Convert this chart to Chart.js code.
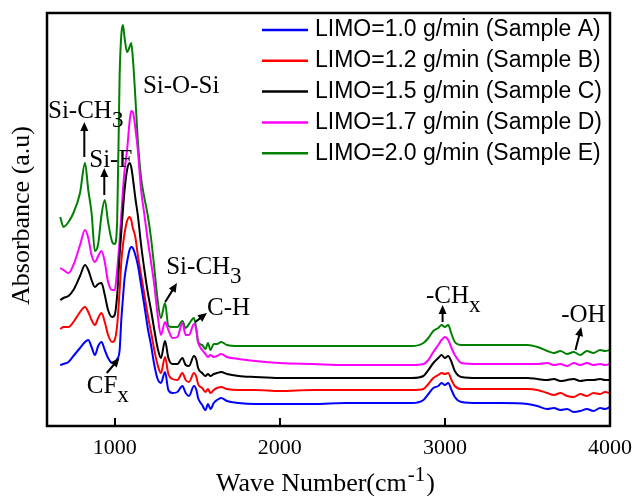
<!DOCTYPE html>
<html>
<head>
<meta charset="utf-8">
<script src="https://cdn.jsdelivr.net/npm/chart.js@4.4.0/dist/chart.umd.min.js"></script>
<style>
  html, body { margin: 0; padding: 0; background: #fff; }
  canvas { display: block; }
</style>
</head>
<body>
<canvas id="ftir" width="634" height="496"></canvas>
<script>
// FTIR spectra of the films grown at different LIMO flow rates (curves offset, arbitrary units)
const waveNumbers = [
  670, 690, 720, 750, 790, 820, 840, 860, 880, 900,
  920, 940, 960, 985, 1000, 1015, 1030, 1040, 1050, 1060,
  1075, 1090, 1100, 1110, 1125, 1140, 1160, 1180, 1200, 1220,
  1240, 1260, 1280, 1305, 1325, 1350, 1380, 1410, 1430, 1450,
  1480, 1495, 1505, 1530, 1550, 1565, 1580, 1600, 1620, 1645,
  1680, 1750, 1850, 2000, 2200, 2400, 2600, 2800, 2870, 2900,
  2930, 2960, 2980, 3000, 3020, 3040, 3060, 3100, 3200, 3350,
  3500, 3560, 3620, 3660, 3700, 3740, 3780, 3820, 3860, 3900,
  3940, 3970, 4000
];

const sampleA = [
  61, 62, 64, 70, 78, 84, 86, 79, 71, 80,
  84, 76, 68, 63, 64, 67, 76, 106, 128, 148,
  164, 176, 179, 178, 171, 161, 141, 120, 98, 81,
  61, 47, 43, 54, 36, 33, 34, 40, 33, 30,
  40, 36, 28, 21, 16, 22, 17, 23, 26, 28,
  25, 23, 22, 22, 22, 23, 23, 23, 26, 32,
  38, 40, 43, 41, 43, 36, 29, 24, 23, 23,
  22, 20, 17, 18, 16, 17, 14, 15, 17, 15,
  18, 17, 19
];

const sampleB = [
  97, 99, 99, 104, 114, 119, 114, 106, 101, 108,
  113, 104, 91, 84, 86, 101, 136, 164, 181, 193,
  205, 209, 206, 198, 189, 171, 151, 131, 111, 94,
  76, 61, 53, 69, 52, 47, 46, 53, 46, 44,
  53, 49, 42, 38, 34, 37, 33, 36, 38, 39,
  37, 36, 36, 35, 36, 36, 36, 36, 37, 42,
  48, 51, 53, 52, 53, 46, 40, 37, 37, 37,
  37, 36, 33, 31, 33, 30, 29, 32, 30, 33,
  32, 34, 33
];

const sampleC = [
  126, 128, 130, 136, 150, 161, 156, 146, 139, 142,
  143, 131, 116, 109, 111, 131, 171, 194, 216, 236,
  256, 263, 259, 248, 228, 211, 181, 156, 134, 116,
  96, 78, 68, 85, 68, 62, 62, 68, 61, 60,
  70, 66, 58, 53, 50, 52, 50, 52, 53, 54,
  52, 50, 49, 48, 48, 48, 48, 48, 50, 56,
  63, 68, 71, 68, 70, 64, 55, 49, 48, 48,
  48, 47, 46, 47, 45, 46, 47, 45, 46, 46,
  47, 46, 46
];

const sampleD = [
  158, 156, 153, 161, 181, 196, 188, 171, 164, 170,
  175, 164, 144, 136, 136, 156, 186, 211, 236, 256,
  276, 304, 315, 314, 298, 276, 236, 211, 186, 164,
  141, 111, 91, 104, 96, 88, 89, 103, 91, 91,
  102, 96, 84, 76, 72, 69, 71, 69, 70, 72,
  69, 67, 65, 63, 62, 61, 61, 61, 62, 66,
  74, 81, 86, 89, 86, 78, 71, 63, 62, 62,
  62, 62, 63, 61, 62, 60, 63, 61, 63, 61,
  62, 61, 62
];

const sampleE = [
  209, 199, 204, 213, 233, 263, 236, 213, 175, 182,
  211, 226, 204, 184, 182, 205, 351, 391, 401, 388,
  374, 379, 383, 368, 329, 286, 248, 228, 211, 188,
  158, 126, 108, 123, 100, 99, 99, 105, 98, 102,
  108, 96, 84, 81, 77, 83, 76, 82, 82, 84,
  81, 80, 80, 80, 80, 80, 80, 80, 83, 88,
  95, 98, 101, 99, 101, 92, 84, 81, 81, 81,
  81, 79, 75, 73, 75, 72, 74, 71, 75, 73,
  76, 75, 76
];

const sampleLabels = [
  'LIMO=1.0 g/min (Sample A)',
  'LIMO=1.2 g/min (Sample B)',
  'LIMO=1.5 g/min (Sample C)',
  'LIMO=1.7 g/min (Sample D)',
  'LIMO=2.0 g/min (Sample E)'
];
const sampleColors = ['#0000ff', '#ff0000', '#000000', '#ff00ff', '#008000'];
const xTickValues = [1000, 2000, 3000, 4000];

// band assignments: text anchor (left, baseline) and arrow, in wave number / absorbance units
const peakNotes = [
  { text: 'Si-O-Si', x: 1171, y: 333 },
  { text: 'Si-CH', sub: '3', x: 596, y: 308, arrow: [816, 269, 816, 304] },
  { text: 'Si-F', x: 846, y: 259, arrow: [937, 231, 937, 258] },
  { text: 'Si-CH', sub: '3', x: 1312, y: 152, arrow: [1306, 124, 1377, 143] },
  { text: 'C-H', x: 1559, y: 111, arrow: [1488, 104, 1559, 113] },
  { text: 'CF', sub: 'x', x: 831, y: 33, arrow: [952, 53, 1029, 68] },
  { text: '-CH', sub: 'x', x: 2885, y: 123, arrow: [2986, 104, 2986, 121] },
  { text: '-OH', x: 3704, y: 104, arrow: [3791, 76, 3826, 99] }
];

const serif = '"Liberation Serif", "Times New Roman", serif';
const sans = '"Liberation Sans", Arial, sans-serif';

const samples = [sampleA, sampleB, sampleC, sampleD, sampleE];

function drawArrow(ctx, x1, y1, x2, y2) {
  const ang = Math.atan2(y2 - y1, x2 - x1);
  const len = 9, half = 4;
  ctx.beginPath();
  ctx.moveTo(x1, y1);
  ctx.lineTo(x2 - Math.cos(ang) * len * 0.8, y2 - Math.sin(ang) * len * 0.8);
  ctx.stroke();
  ctx.beginPath();
  ctx.moveTo(x2, y2);
  ctx.lineTo(x2 - Math.cos(ang) * len - Math.sin(ang) * half, y2 - Math.sin(ang) * len + Math.cos(ang) * half);
  ctx.lineTo(x2 - Math.cos(ang) * len + Math.sin(ang) * half, y2 - Math.sin(ang) * len - Math.cos(ang) * half);
  ctx.closePath();
  ctx.fill();
}

const decorations = {
  id: 'decorations',
  afterDraw(chart) {
    const ctx = chart.ctx;
    const area = chart.chartArea;
    const xs = chart.scales.x;
    const ys = chart.scales.y;
    ctx.save();
    ctx.strokeStyle = '#000';
    ctx.fillStyle = '#000';

    // frame
    ctx.lineWidth = 2.5;
    ctx.strokeRect(area.left, area.top, area.right - area.left, area.bottom - area.top);

    // inward tick marks on the bottom axis
    ctx.lineWidth = 2;
    xTickValues.forEach(v => {
      const px = Math.round(xs.getPixelForValue(v));
      ctx.beginPath();
      ctx.moveTo(px, area.bottom);
      ctx.lineTo(px, area.bottom - 8);
      ctx.stroke();
    });

    // band labels and arrows
    peakNotes.forEach(n => {
      const px = xs.getPixelForValue(n.x);
      const py = ys.getPixelForValue(n.y);
      ctx.font = '25px ' + serif;
      ctx.textAlign = 'left';
      ctx.textBaseline = 'alphabetic';
      ctx.fillText(n.text, px, py);
      if (n.sub) {
        const w = ctx.measureText(n.text).width;
        ctx.font = '23px ' + serif;
        ctx.fillText(n.sub, px + w, py + 9);
      }
      if (n.arrow) {
        const [a, b, c, d] = n.arrow;
        ctx.lineWidth = 2;
        drawArrow(ctx, xs.getPixelForValue(a), ys.getPixelForValue(b),
          xs.getPixelForValue(c), ys.getPixelForValue(d));
      }
    });

    // legend
    const lx = area.right - 348;
    chart.data.datasets.forEach((ds, i) => {
      const ly = area.top + 17 + i * 30.8;
      ctx.strokeStyle = ds.borderColor;
      ctx.lineWidth = 2.5;
      ctx.beginPath();
      ctx.moveTo(lx, ly);
      ctx.lineTo(lx + 46, ly);
      ctx.stroke();
      ctx.fillStyle = '#000';
      ctx.font = '23px ' + sans;
      ctx.textAlign = 'left';
      ctx.textBaseline = 'middle';
      ctx.fillText(ds.label, lx + 53, ly);
    });

    // axis titles
    ctx.fillStyle = '#000';
    ctx.textBaseline = 'alphabetic';
    ctx.textAlign = 'left';
    const main = 'Wave Number(cm';
    ctx.font = '26px ' + serif;
    const w1 = ctx.measureText(main).width;
    const w3 = ctx.measureText(')').width;
    ctx.font = '21px ' + serif;
    const w2 = ctx.measureText('-1').width;
    let tx = (area.left + area.right) / 2 - 4 - (w1 + w2 + w3) / 2;
    const tb = 491;
    ctx.font = '26px ' + serif;
    ctx.fillText(main, tx, tb);
    ctx.font = '21px ' + serif;
    ctx.fillText('-1', tx + w1 + 1, tb - 10);
    ctx.font = '26px ' + serif;
    ctx.fillText(')', tx + w1 + w2 + 2, tb);

    ctx.translate(22, (area.top + area.bottom) / 2 - 4);
    ctx.rotate(-Math.PI / 2);
    ctx.font = '26px ' + serif;
    ctx.textAlign = 'center';
    ctx.textBaseline = 'middle';
    ctx.fillText('Absorbance (a.u)', 0, 0);
    ctx.restore();
  }
};

new Chart(document.getElementById('ftir'), {
  type: 'line',
  data: {
    datasets: samples.map((vals, i) => ({
      label: sampleLabels[i],
      data: waveNumbers.map((w, j) => ({ x: w, y: vals[j] })),
      borderColor: sampleColors[i],
      borderWidth: 2,
      pointRadius: 0,
      fill: false,
      cubicInterpolationMode: 'monotone'
    }))
  },
  options: {
    responsive: false,
    animation: false,
    devicePixelRatio: 1,
    layout: { padding: { top: 13, right: 24, left: 0, bottom: 0 } },
    plugins: {
      legend: { display: false },
      tooltip: { enabled: false }
    },
    scales: {
      x: {
        type: 'linear',
        min: 590,
        max: 4000,
        afterBuildTicks: s => { s.ticks = xTickValues.map(v => ({ value: v })); },
        afterFit: s => {
          s.height = 70;
          s.paddingLeft = 0;
          s.paddingRight = 0;
        },
        ticks: {
          color: '#000',
          font: { family: serif, size: 22 },
          padding: 1,
          maxRotation: 0,
          autoSkip: false,
          callback: v => String(v)
        },
        grid: { display: false },
        border: { display: false }
      },
      y: {
        min: 0,
        max: 413,
        afterFit: s => { s.width = 47; },
        ticks: { display: false },
        grid: { display: false },
        border: { display: false }
      }
    }
  },
  plugins: [decorations]
});
</script>
</body>
</html>
